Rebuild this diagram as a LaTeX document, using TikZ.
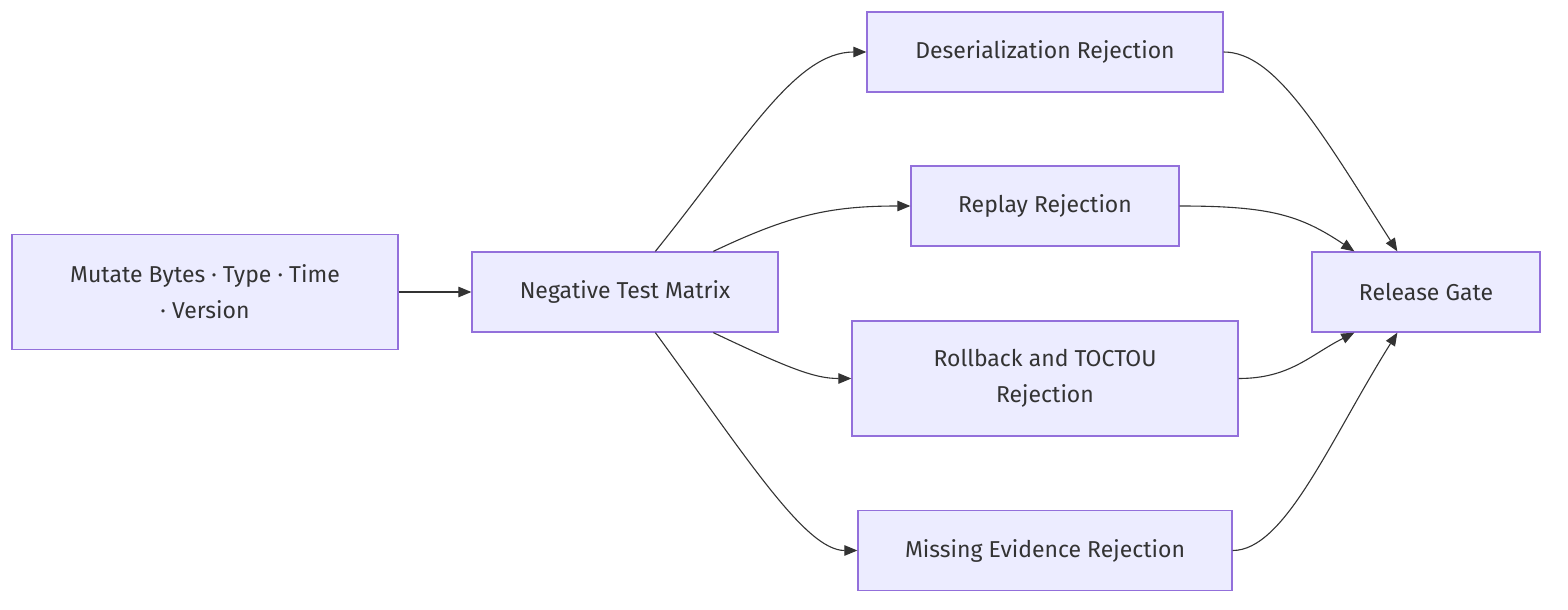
\documentclass[tikz,border=0pt]{standalone}
\usepackage{fontspec}
\setmainfont{Fira Sans}
\usetikzlibrary{arrows.meta}
\definecolor{boxfill}{HTML}{ECECFF}
\definecolor{boxline}{HTML}{9370DB}
\definecolor{ink}{HTML}{333333}
\begin{document}
\begin{tikzpicture}[x=1pt,y=-1pt,
  box/.style={draw=boxline,fill=boxfill,line width=1.3pt,inner sep=0pt,
    font=\fontsize{23}{36}\selectfont,text=ink,align=center},
  link/.style={draw=ink,line width=1.1pt,-{Triangle[length=13pt,width=10.5pt]}}]
\useasboundingbox (0,0) rectangle (1568,610);
\node[box,minimum width=386pt,minimum height=115pt] (A) at (205,292) {Mutate Bytes · Type · Time\\· Version};
\node[box,minimum width=306pt,minimum height=80pt] (B) at (625,292) {Negative Test Matrix};
\node[box,minimum width=356pt,minimum height=80pt] (C) at (1045,52) {Deserialization Rejection};
\node[box,minimum width=268pt,minimum height=80pt] (D) at (1045,206) {Replay Rejection};
\node[box,minimum width=386pt,minimum height=115pt] (E) at (1045,378.5) {Rollback and TOCTOU\\Rejection};
\node[box,minimum width=374pt,minimum height=80pt] (F) at (1045,550.5) {Missing Evidence Rejection};
\node[box,minimum width=228pt,minimum height=80pt] (G) at (1426,292) {Release Gate};
\coordinate (Bnw) at ([xshift=184pt]B.north west);
\coordinate (Bne) at ([xshift=242pt]B.north west);
\coordinate (Bsw) at ([xshift=184pt]B.south west);
\coordinate (Bse) at ([xshift=242pt]B.south west);
\coordinate (Gnw) at ([xshift=43pt]G.north west);
\coordinate (Gne) at ([xshift=86pt]G.north west);
\coordinate (Gsw) at ([xshift=43pt]G.south west);
\coordinate (Gse) at ([xshift=86pt]G.south west);
\draw[link] (A.east) -- (B.west);
\draw[link] (Bnw) .. controls (745,140) and (795,52) .. (C.west);
\draw[link] (Bne) .. controls (790,215) and (830,206) .. (D.west);
\draw[link] (Bse) .. controls (790,369) and (815,378.5) .. (E.west);
\draw[link] (Bsw) .. controls (745,455) and (805,550.5) .. (F.west);
\draw[link] (C.east) .. controls (1275,52) and (1320,130) .. (Gne);
\draw[link] (D.east) .. controls (1270,206) and (1300,215) .. (Gnw);
\draw[link] (E.east) .. controls (1290,378.5) and (1310,355) .. (Gsw);
\draw[link] (F.east) .. controls (1285,550.5) and (1330,440) .. (Gse);
\end{tikzpicture}
\end{document}
